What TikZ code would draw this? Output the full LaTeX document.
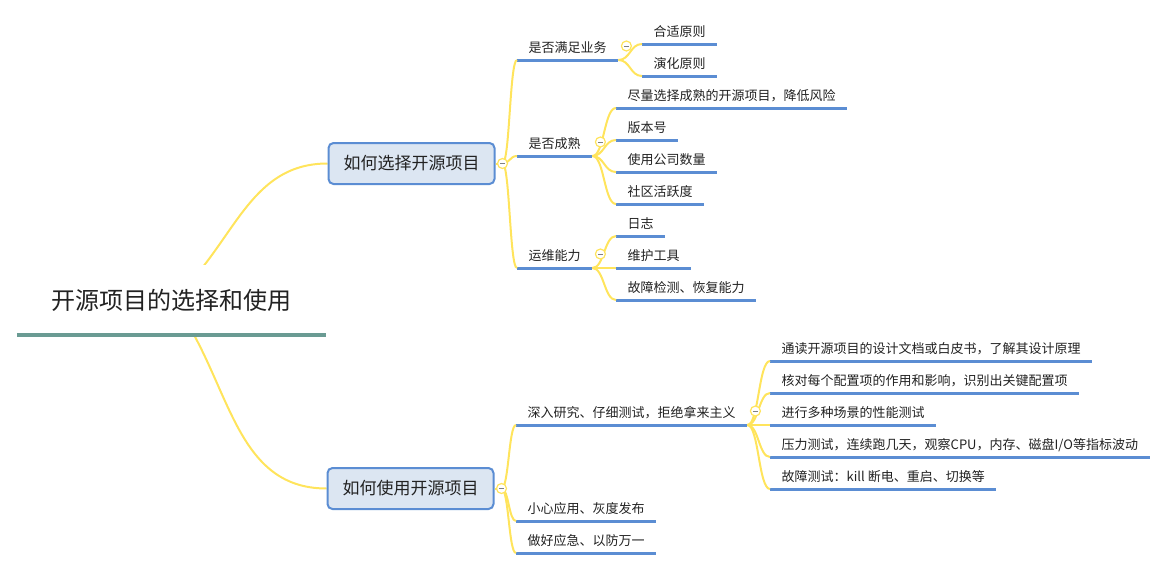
\documentclass[tikz,border=0pt]{standalone}
\usepackage{fontspec}
\setmainfont{Noto Sans CJK SC}
\usetikzlibrary{positioning,calc}
\definecolor{linkyellow}{HTML}{FFE45C}
\definecolor{lineblue}{HTML}{5B8DD3}
\definecolor{boxfill}{HTML}{DCE6F2}
\definecolor{rootline}{HTML}{6A9B93}
\definecolor{textdark}{HTML}{222222}
\pgfdeclarelayer{bg}
\pgfsetlayers{bg,main}
\tikzset{
  root/.style={fill=white,minimum width=309pt,minimum height=70pt,inner sep=0pt,
    font=\fontsize{24}{28}\selectfont,text=textdark,
    append after command={(\tikzlastnode.south west) edge[draw=rootline,line width=4pt] (\tikzlastnode.south east)}},
  branch/.style={draw=lineblue,fill=boxfill,line width=2pt,rounded corners=5pt,
    minimum width=166pt,minimum height=41pt,font=\fontsize{17}{20}\selectfont,text=textdark},
  uline/.style={draw=lineblue,line width=3pt},
  topic/.style={anchor=south west,inner xsep=11.5pt,inner ysep=4pt,text height=10pt,text depth=3pt,
    font=\fontsize{13}{15}\selectfont,text=textdark,
    append after command={(\tikzlastnode.south west) edge[uline] (\tikzlastnode.south east)}},
  link/.style={draw=linkyellow,line width=2pt,
    to path={.. controls ($(\tikztostart)!0.5!(\tikztotarget|-\tikztostart)$)
      and ($(\tikztotarget)!0.5!(\tikztostart|-\tikztotarget)$) .. (\tikztotarget)}},
  fold/.style={circle,draw=linkyellow,fill=white,line width=1.2pt,minimum size=10pt,inner sep=0pt,
    path picture={\draw[gray,line width=0.8pt]
      ($(path picture bounding box.center)+(-2.5,0)$) -- ($(path picture bounding box.center)+(2.5,0)$);}}
}
\begin{document}
\begin{tikzpicture}[x=1pt,y=-1pt]
  \useasboundingbox (0,0) rectangle (1172,570);

  % root and the two main boxes
  \node[root] (root) at (171.5,300) {开源项目的选择和使用};
  \node[branch] (choose) at (411.5,163.5) {如何选择开源项目};
  \node[branch] (use) at (410.5,488.5) {如何使用开源项目};

  \begin{pgfonlayer}{bg}
    \draw[link] (root.center) to[out=40,in=180] (choose.west);
    \draw[link] (root.center) to[out=-52,in=180] (use.west);
  \end{pgfonlayer}

  % first box
  \node[topic] (biz) at (517,60) {是否满足业务};
  \node[topic] (mature) at (517,156) {是否成熟};
  \node[topic] (ops) at (517,268) {运维能力};

  \node[topic] (fit) at (642,44) {合适原则};
  \node[topic] (evolve) at (642,76) {演化原则};

  \node[topic] (lowrisk) at (616,108) {尽量选择成熟的开源项目，降低风险};
  \node[topic] (version) at (616,140) {版本号};
  \node[topic] (users) at (616,172) {使用公司数量};
  \node[topic] (community) at (616,204) {社区活跃度};

  \node[topic] (logs) at (616,236) {日志};
  \node[topic] (tools) at (616,268) {维护工具};
  \node[topic] (recover) at (616,300) {故障检测、恢复能力};

  % second box
  \node[topic] (study) at (516,425) {深入研究、仔细测试，拒绝拿来主义};
  \node[topic] (gray) at (516,521) {小心应用、灰度发布};
  \node[topic] (backup) at (516,553) {做好应急、以防万一};

  \node[topic] (docs) at (770,361) {通读开源项目的设计文档或白皮书，了解其设计原理};
  \node[topic] (config) at (770,393) {核对每个配置项的作用和影响，识别出关键配置项};
  \node[topic] (perf) at (770,425) {进行多种场景的性能测试};
  \node[topic] (stress) at (770,457) {压力测试，连续跑几天，观察CPU，内存、磁盘I/O等指标波动};
  \node[topic] (fault) at (770,489) {故障测试：kill 断电、重启、切换等};

  % links
  \draw[link] (choose.east) -- ++(7,0) coordinate (cfold);
  \draw[link] (cfold) to (biz.south west);
  \draw[link] (cfold) to (mature.south west);
  \draw[link] (cfold) to (ops.south west);

  \draw[link] (biz.south east) to (fit.south west);
  \draw[link] (biz.south east) to (evolve.south west);

  \draw[link] (mature.south east) to (lowrisk.south west);
  \draw[link] (mature.south east) to (version.south west);
  \draw[link] (mature.south east) to (users.south west);
  \draw[link] (mature.south east) to (community.south west);

  \draw[link] (ops.south east) to (logs.south west);
  \draw[link] (ops.south east) to (tools.south west);
  \draw[link] (ops.south east) to (recover.south west);

  \draw[link] (use.east) -- ++(7,0) coordinate (ufold);
  \draw[link] (ufold) to (study.south west);
  \draw[link] (ufold) to (gray.south west);
  \draw[link] (ufold) to (backup.south west);

  \draw[link] (study.south east) to (docs.south west);
  \draw[link] (study.south east) to (config.south west);
  \draw[link] (study.south east) to (perf.south west);
  \draw[link] (study.south east) to (stress.south west);
  \draw[link] (study.south east) to (fault.south west);

  % fold markers
  \node[fold] at (cfold) {};
  \node[fold] at (ufold) {};
  \node[fold] at ($(biz.south east)+(8,-14)$) {};
  \node[fold] at ($(mature.south east)+(8,-14)$) {};
  \node[fold] at ($(ops.south east)+(8,-14)$) {};
  \node[fold] at ($(study.south east)+(8,-14)$) {};
\end{tikzpicture}
\end{document}
